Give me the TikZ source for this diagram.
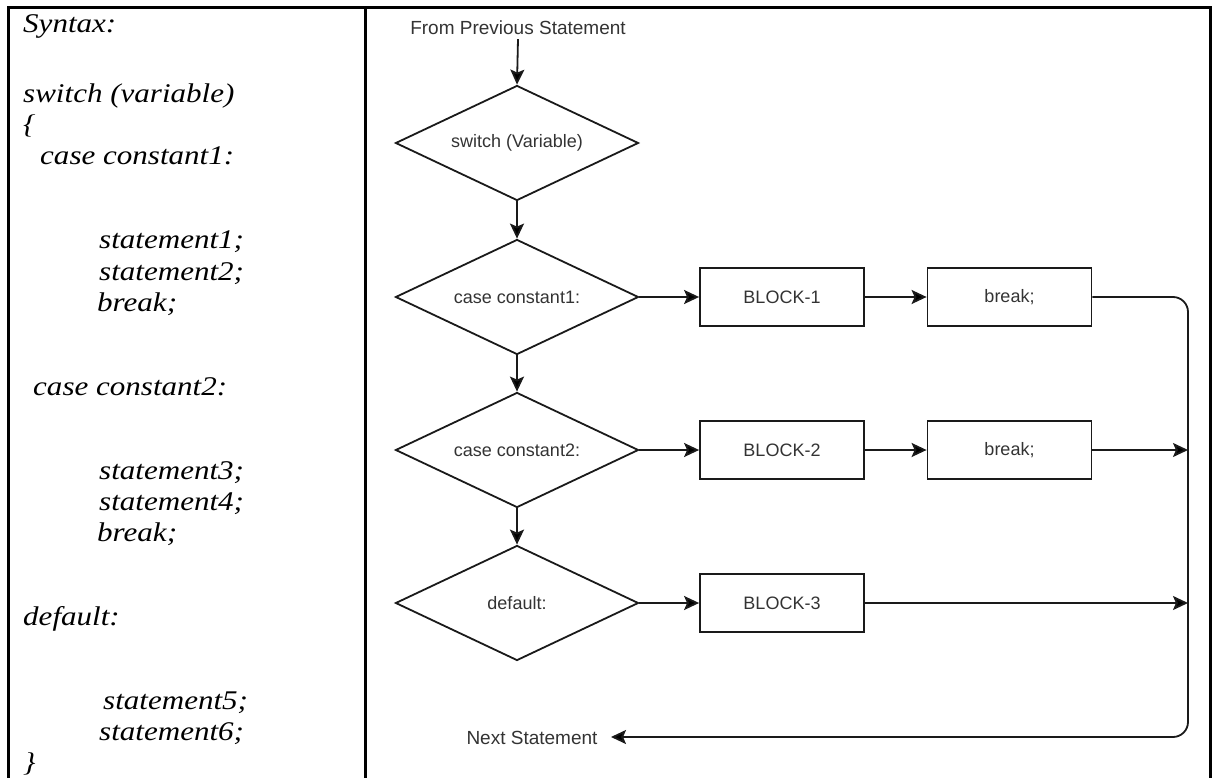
\documentclass[tikz,border=0pt]{standalone}
\usepackage{fontspec}
\setmainfont{Liberation Sans}
\newfontfamily\codefont[FakeStretch=1.15]{Liberation Serif}
\usetikzlibrary{arrows.meta,shapes.geometric}
\definecolor{lncol}{HTML}{1A1A1A}
\definecolor{txcol}{HTML}{333333}
\begin{document}
\begin{tikzpicture}[x=1pt,y=-1pt,
  frame/.style={line width=3pt,black},
  code/.style={anchor=base west,inner sep=0pt,font=\codefont\itshape\fontsize{27}{30}\selectfont},
  decision/.style={diamond,draw=lncol,line width=1.8pt,minimum width=243pt,minimum height=115pt,inner sep=0pt,aspect=2.1,text=txcol,font=\fontsize{18}{20}\selectfont},
  blockbox/.style={rectangle,draw=lncol,line width=1.8pt,minimum width=164pt,minimum height=58pt,inner sep=0pt,text=txcol,font=\fontsize{18}{20}\selectfont},
  lbl/.style={text=txcol,inner sep=0pt,font=\fontsize{19}{21}\selectfont},
  flow/.style={draw=lncol,line width=1.8pt,-{Stealth[length=15pt,width=14pt,inset=3pt,fill=black]}},
  plain/.style={draw=lncol,line width=1.8pt}]
\useasboundingbox (0,0) rectangle (1216,778);
% table frame
\draw[frame] (7,8) -- (1212,8);
\draw[frame] (8.5,7) -- (8.5,778);
\draw[frame] (365,7) -- (365,778);
\draw[frame] (1210.5,7) -- (1210.5,778);
% left column code
\node[code] (l1) at (23,33) {Syntax:};
\node[code] (l2) at (23,103) {switch (variable)};
\node[code] (l3) at (23,134) {\{};
\node[code] (l4) at (40,165) {case constant1:};
\node[code] (l5) at (99,249) {statement1;};
\node[code] (l6) at (99,280) {statement2;};
\node[code] (l7) at (97,311) {break;};
\node[code] (l8) at (33,395) {case constant2:};
\node[code] (l9) at (99,479) {statement3;};
\node[code] (l10) at (99,510) {statement4;};
\node[code] (l11) at (97,541) {break;};
\node[code] (l12) at (23,625) {default:};
\node[code] (l13) at (103,709) {statement5;};
\node[code] (l14) at (99,740) {statement6;};
\node[code] (l15) at (23,771) {\}};
% flowchart
\node[lbl] (prev) at (518,28) {From Previous Statement};
\node[decision] (sw) at (517,143) {switch (Variable)};
\node[decision] (c1) at (517,297) {case constant1:};
\node[decision] (c2) at (517,450) {case constant2:};
\node[decision] (df) at (517,603) {default:};
\node[blockbox] (b1) at (782,297) {BLOCK-1};
\node[blockbox] (k1) at (1009.5,297) {break;};
\node[blockbox] (b2) at (782,450) {BLOCK-2};
\node[blockbox] (k2) at (1009.5,450) {break;};
\node[blockbox] (b3) at (782,603) {BLOCK-3};
\node[lbl] (next) at (532,738) {Next Statement};
\coordinate (rt) at (1188,297);
\coordinate (rb) at (1188,737);
\coordinate (ne) at (611,737);
\draw[flow] (prev.south) ++(0,4) -- (sw.north);
\draw[flow] (sw.south) -- (c1.north);
\draw[flow] (c1.south) -- (c2.north);
\draw[flow] (c2.south) -- (df.north);
\draw[flow] (c1.east) -- (b1.west);
\draw[flow] (b1.east) -- (k1.west);
\draw[flow] (c2.east) -- (b2.west);
\draw[flow] (b2.east) -- (k2.west);
\draw[flow] (df.east) -- (b3.west);
\draw[flow] (k2.east) -- (k2.east -| rt);
\draw[flow] (b3.east) -- (b3.east -| rt);
\draw[flow,rounded corners=15pt] (k1.east) -- (rt) -- (rb) -- (ne);
\end{tikzpicture}
\end{document}
